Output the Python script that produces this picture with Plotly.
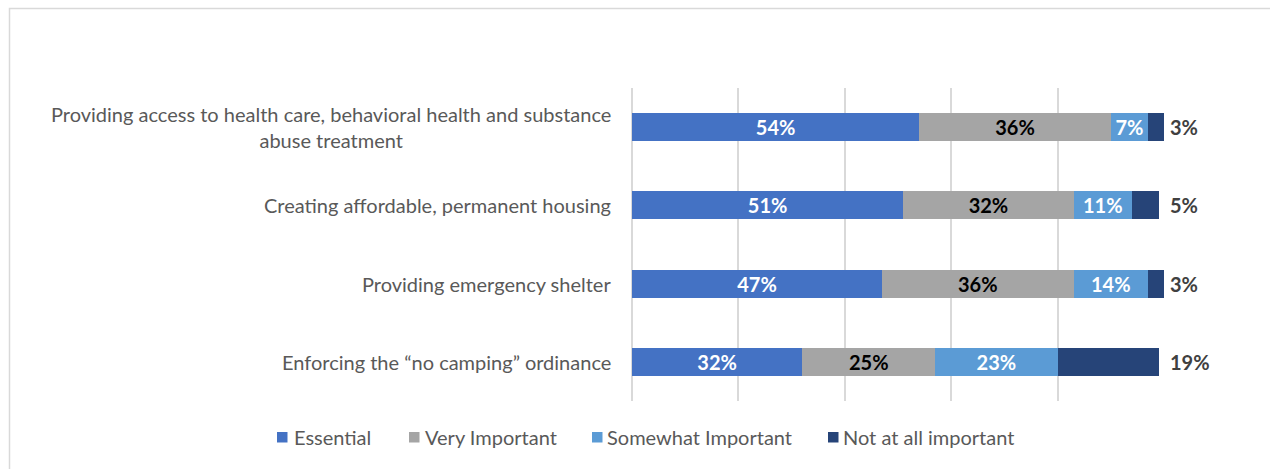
import plotly.graph_objects as go

categories = [
    "Providing access to health care, behavioral health and substance<br>abuse treatment",
    "Creating affordable, permanent housing",
    "Providing emergency shelter",
    "Enforcing the \u201cno camping\u201d ordinance",
]
essential = [54, 51, 47, 32]
very_important = [36, 32, 36, 25]
somewhat_important = [7, 11, 14, 23]
not_important = [3, 5, 3, 19]
series_names = ["Essential", "Very Important", "Somewhat Important", "Not at all important"]
tick_vals = [0, 20, 40, 60, 80, 100]

colors = ["#4472C4", "#A5A5A5", "#5B9BD5", "#264478"]
text_colors = ["white", "black", "white", None]
FONT = "Lato, Carlito, Calibri, sans-serif"
FS = 20

W, H = 1270, 469
L, R, T, B = 632, 106, 88, 68
pw, ph = W - L - R, H - T - B

def px_x(px):
    return (px - L) / pw

def px_y(py):
    return (H - B - py) / ph

fig = go.Figure()
all_series = [essential, very_important, somewhat_important, not_important]
for name, vals, col, tc in zip(series_names, all_series, colors, text_colors):
    fig.add_trace(go.Bar(
        y=categories, x=vals, name=name, orientation="h",
        marker=dict(color=col, line=dict(width=0)),
        text=[f"<b>{v}%</b>" for v in vals] if tc else None,
        textposition="inside" if tc else "none",
        insidetextanchor="middle",
        textfont=dict(color=tc if tc else "white", size=FS, family=FONT),
        hoverinfo="x+name",
        showlegend=False,
    ))

totals = [sum(v) for v in zip(*all_series)]
for cat, tot, v in zip(categories, totals, not_important):
    fig.add_annotation(x=max(tot, 100), y=cat, xref="x", yref="y", text=f"<b>{v}%</b>",
                       showarrow=False, xanchor="left", xshift=4,
                       font=dict(size=FS, color="#404040", family=FONT))

for cat in categories:
    fig.add_annotation(x=px_x(613), y=cat, xref="paper", yref="y", text=cat,
                       showarrow=False, xanchor="right", align="center",
                       font=dict(size=FS, color="#595959", family=FONT))

# custom legend (layout positions in pixels)
legend_marker_px = [277, 409, 592, 828]
legend_text_px = [292, 423, 605, 841]
for name, col, mx, tx in zip(series_names, colors, legend_marker_px, legend_text_px):
    fig.add_shape(type="rect", xref="paper", yref="paper",
                  x0=px_x(mx), x1=px_x(mx + 10.5), y0=px_y(442.5), y1=px_y(432),
                  line=dict(width=0), fillcolor=col)
    fig.add_annotation(x=px_x(tx), y=px_y(437), xref="paper", yref="paper", text=name,
                       showarrow=False, xanchor="left", yanchor="middle",
                       font=dict(size=FS, color="#595959", family=FONT))

# outer chart border
fig.add_shape(type="rect", xref="paper", yref="paper",
              x0=px_x(9.5), x1=px_x(1290), y0=px_y(490), y1=px_y(8.5),
              line=dict(color="#D9D9D9", width=1.5), fillcolor="rgba(0,0,0,0)", layer="below")

fig.update_layout(
    width=W, height=H,
    margin=dict(l=L, r=R, t=T, b=B, autoexpand=False),
    barmode="stack",
    bargap=0.64,
    plot_bgcolor="white", paper_bgcolor="white",
    font=dict(family=FONT, size=FS, color="#595959"),
    uniformtext=dict(minsize=FS, mode="show"),
    xaxis=dict(range=[0, 100], tickvals=tick_vals, showticklabels=False,
               showgrid=True, gridcolor="#D9D9D9", gridwidth=2,
               zeroline=True, zerolinecolor="#D9D9D9", zerolinewidth=2, fixedrange=True),
    yaxis=dict(categoryorder="array", categoryarray=categories, autorange="reversed",
               showticklabels=False, showgrid=False),
    showlegend=False,
)

fig.write_html("out.html")
